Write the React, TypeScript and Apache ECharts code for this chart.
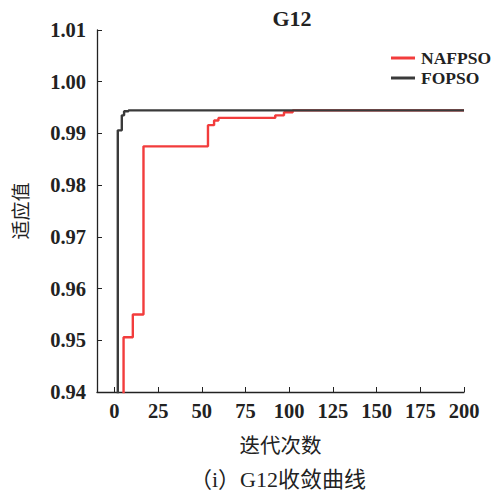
import React, { useEffect, useRef } from "react";
import * as echarts from "echarts";

const xTicks = [0, 25, 50, 75, 100, 125, 150, 175, 200];
const nafpsoIter = [0, 5.2, 10.5, 16.6, 53.5, 57, 59.5, 92, 97, 102, 200];
const nafpsoFit = [0.93, 0.9506, 0.955, 0.9875, 0.9916, 0.9925, 0.993, 0.9935, 0.9941, 0.99445, 0.99445];
const fopsoIter = [0, 1.9, 4.2, 5.5, 8, 200];
const fopsoFit = [0.93, 0.9906, 0.9935, 0.9943, 0.99445, 0.99445];

const SERIF = "'Liberation Serif', 'Noto Sans CJK SC', serif";

export default function App() {
  const ref = useRef<HTMLDivElement>(null);
  useEffect(() => {
    const chart = echarts.init(ref.current!, null, { renderer: "svg" });
    const zip = (xs: number[], ys: number[]) => xs.map((x, i) => [x, ys[i]]);
    chart.setOption({
      animation: false,
      backgroundColor: "#fff",
      textStyle: { fontFamily: SERIF },
      title: [
        {
          text: "G12",
          left: 287,
          top: 2,
          textAlign: "center",
          textStyle: { fontFamily: SERIF, fontSize: 22, fontWeight: "bold", color: "#222" },
        },
        {
          text: "（i）G12收敛曲线",
          left: 273,
          top: 463,
          textAlign: "center",
          textStyle: { fontFamily: SERIF, fontSize: 22, fontWeight: "normal", color: "#222" },
        },
      ],
      legend: {
        left: 386,
        top: 43,
        orient: "vertical",
        itemWidth: 24,
        itemHeight: 3,
        itemGap: 0,
        icon: "rect",
        textStyle: {
          fontFamily: SERIF,
          fontSize: 17.5,
          lineHeight: 20,
          fontWeight: "bold",
          color: "#222",
          padding: [0, 0, 0, 1],
        },
        data: ["NAFPSO", "FOPSO"],
      },
      grid: { left: 97, top: 30, right: 32, bottom: 105, containLabel: false },
      xAxis: {
        type: "value",
        min: -10,
        max: 200,
        name: "迭代次数",
        nameLocation: "middle",
        nameGap: 44,
        nameTextStyle: { fontFamily: SERIF, fontSize: 20.5, color: "#222" },
        axisLine: { onZero: false, lineStyle: { color: "#222", width: 1.3 } },
        axisTick: { inside: true, length: 5, customValues: xTicks, lineStyle: { color: "#222" } },
        axisLabel: {
          customValues: xTicks,
          margin: 9,
          fontFamily: SERIF,
          fontSize: 20.5,
          fontWeight: "bold",
          color: "#222",
        },
        splitLine: { show: false },
      },
      yAxis: {
        type: "value",
        min: 0.94,
        max: 1.01,
        interval: 0.01,
        name: "适应值",
        nameLocation: "middle",
        nameGap: 66,
        nameTextStyle: { fontFamily: SERIF, fontSize: 19, color: "#222" },
        axisLine: { show: true, onZero: false, lineStyle: { color: "#222", width: 1.3 } },
        axisTick: { show: true, inside: true, length: 5, lineStyle: { color: "#222" } },
        axisLabel: {
          margin: 11,
          fontFamily: SERIF,
          fontSize: 20.5,
          fontWeight: "bold",
          color: "#222",
          formatter: (v: number) => v.toFixed(2),
        },
        splitLine: { show: false },
      },
      series: [
        {
          name: "NAFPSO",
          type: "line",
          step: "end",
          showSymbol: false,
          color: "#f23c3c",
          lineStyle: { width: 2.4, color: "#f23c3c" },
          data: zip(nafpsoIter, nafpsoFit),
          z: 2,
        },
        {
          name: "FOPSO",
          type: "line",
          step: "end",
          showSymbol: false,
          color: "#3a3a3a",
          lineStyle: { width: 2.4, color: "#3a3a3a" },
          data: zip(fopsoIter, fopsoFit),
          z: 3,
        },
      ],
    });
    return () => chart.dispose();
  }, []);
  return <div ref={ref} style={{ width: 496, height: 497, position: "absolute", left: 0, top: 0 }} />;
}
